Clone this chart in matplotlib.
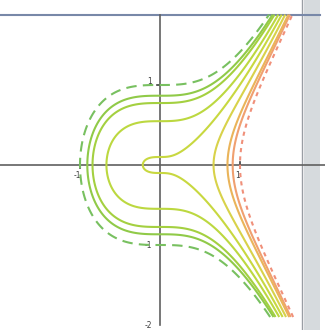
import matplotlib
matplotlib.use("Agg")
import matplotlib.pyplot as plt
import numpy as np

levels = [-1.0, -0.75, -0.6, -0.3, 0.01, 0.3, 0.6, 0.75, 1.0]
level_colors = ['#f0907a', '#f0a070', '#eab45a', '#d8d24a', '#c8d840',
                '#bcd840', '#a4d040', '#90ca48', '#78c060']
level_styles = [(0, (2, 2)), 'solid', 'solid', 'solid', 'solid',
                'solid', 'solid', 'solid', (0, (5, 3))]

tick_vals = [-1, 1]
tick_labels = ['-1', '1']

fig = plt.figure(figsize=(3.25, 3.3), dpi=100)
ax = fig.add_axes([0, 0, 1, 1])
ax.set_xlim(-2.0, 2.0625)
ax.set_ylim(-2.0625, 2.0625)
ax.set_aspect('auto')
ax.axis('off')

# page-edge look on the right of the photo
ax.axvspan(1.80, 2.0, color='#d6dadd', lw=0, zorder=0)
ax.axvline(1.78, color='#9a9ea4', lw=1.0, zorder=1)

# top frame line
ax.plot([-2.0, 2.0], [1.88, 1.88], color='#7888a8', lw=1.5, zorder=2)

# axes through the origin
ax.plot([-2.0, 2.0625], [0, 0], color='#606060', lw=1.2, zorder=2)
ax.plot([0, 0], [-2.0, 1.88], color='#606060', lw=1.2, zorder=2)

# ticks and labels
for v, lab in zip(tick_vals, tick_labels):
    ax.plot([v, v], [-0.04, 0.04], color='#404040', lw=1.2, zorder=3)
    ax.text(v - 0.03, -0.07, lab, ha='center', va='top', fontsize=5.5, color='#404040')
    ax.plot([-0.04, 0.04], [v, v], color='#404040', lw=1.2, zorder=3)
    ax.text(-0.1, v + (0.05 if v > 0 else 0.0), lab, ha='right', va='center',
            fontsize=5.5, color='#404040')
ax.text(-0.1, -2.0, '-2', ha='right', va='center', fontsize=5.5, color='#404040')

# contour curves of y^2 - x^3
xs = np.linspace(-2.0, 1.74, 600)
ys = np.linspace(-1.9, 1.88, 600)
X, Y = np.meshgrid(xs, ys)
Z = Y ** 2 - X ** 3
ax.contour(X, Y, Z, levels=levels, colors=level_colors,
           linestyles=level_styles, linewidths=1.5, zorder=4)

fig.savefig('out.png', dpi=100, facecolor='white')
